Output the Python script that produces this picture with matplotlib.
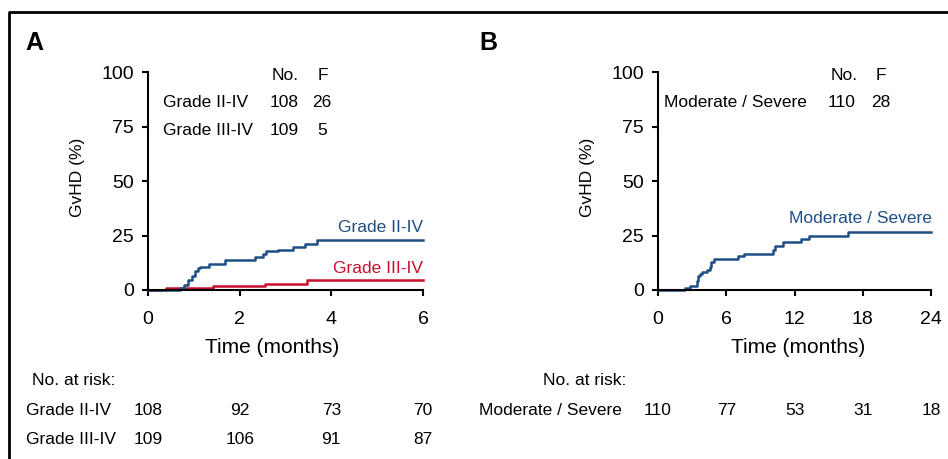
import matplotlib
matplotlib.use("Agg")
import matplotlib.pyplot as plt
import matplotlib.transforms as mtransforms
from matplotlib.lines import Line2D

plt.rcParams['font.family'] = ['Liberation Sans', 'DejaVu Sans']

W, H = 948, 459
BLUE = '#1d4f86'
RED = '#c8102e'

# Panel A: cumulative incidence of acute GvHD (months)
a_t_grade24 = [0, 0.69, 0.78, 0.87, 0.95, 1.02, 1.08, 1.125, 1.34, 1.67, 2.33,
               2.51, 2.58, 2.84, 3.17, 3.43, 3.68, 6]
a_v_grade24 = [0, 1.0, 2.5, 4.6, 6.5, 8.5, 10.0, 10.75, 12.0, 13.8, 15.0,
               16.3, 17.7, 18.4, 19.7, 21.3, 23.1, 23.1]
a_t_grade34 = [0, 0.39, 1.42, 2.55, 3.46, 6]
a_v_grade34 = [0, 0.9, 1.8, 2.8, 4.6, 4.6]
a_ticks = [0, 2, 4, 6]
a_risk_grade24 = [108, 92, 73, 70]
a_risk_grade34 = [109, 106, 91, 87]

# Panel B: chronic GvHD (months)
b_t_modsev = [0, 2.35, 2.8, 3.4, 3.5, 3.65, 3.9, 4.3, 4.55, 4.7, 4.93, 7.05,
              7.55, 10.1, 10.3, 11.0, 12.6, 13.3, 16.7, 24]
b_v_modsev = [0, 0.9, 1.8, 4.3, 6.6, 7.5, 8.1, 9.2, 10.75, 12.7, 14.3, 15.4,
              16.6, 18.4, 20.0, 22.0, 23.5, 25.0, 26.6, 26.6]
b_ticks = [0, 6, 12, 18, 24]
b_risk_modsev = [110, 77, 53, 31, 18]

y_ticks = [0, 25, 50, 75, 100]

fig = plt.figure(figsize=(W / 100, H / 100), dpi=100)


def fx(px):
    return px / W


def fy(py):
    return 1 - py / H


def txt(x, y, s, **kw):
    kw.setdefault('fontsize', 12.5)
    fig.text(fx(x), fy(y), s, va='baseline', **kw)


def setup(ax, xmax, ticks):
    ax.set_xlim(0, xmax)
    ax.set_ylim(0, 100)
    ax.set_xticks(ticks)
    ax.set_yticks(y_ticks)
    for s in ['top', 'right']:
        ax.spines[s].set_visible(False)
    for s in ['left', 'bottom']:
        ax.spines[s].set_linewidth(1.5)
    ax.tick_params(width=1.5, length=4, labelsize=14)
    ax.tick_params(axis='x', pad=11)
    ax.tick_params(axis='y', pad=6)
    ax.patch.set_alpha(0)


axA = fig.add_axes([fx(148), fy(290), fx(423 - 148), (290 - 72) / H])
setup(axA, 6, a_ticks)
axA.step(a_t_grade34, a_v_grade34, where='post', color=RED, lw=1.8, clip_on=False)
axA.step(a_t_grade24, a_v_grade24, where='post', color=BLUE, lw=1.8, clip_on=False)

axB = fig.add_axes([fx(658), fy(290), fx(931 - 658), (290 - 72) / H])
setup(axB, 24, b_ticks)
axB.step(b_t_modsev, b_v_modsev, where='post', color=BLUE, lw=1.8, clip_on=False)

# frame
fig.add_artist(Line2D([fx(8.5), fx(8.5), 1.0], [0, fy(11.5), fy(11.5)],
                      color='black', lw=2, transform=fig.transFigure))

# panel letters
txt(25, 50, 'A', fontsize=18, fontweight='bold')
txt(479, 50, 'B', fontsize=18, fontweight='bold')

# axis labels
txt(272, 353, 'Time (months)', ha='center', fontsize=15)
txt(798, 353, 'Time (months)', ha='center', fontsize=15)
fig.text(fx(77.5), fy(177), 'GvHD (%)', rotation=90, ha='center', va='center',
         fontsize=12.5)
fig.text(fx(587.5), fy(177), 'GvHD (%)', rotation=90, ha='center', va='center',
         fontsize=12.5)

# legend tables
txt(272, 80, 'No.')
txt(318, 80, 'F')
txt(163, 107, 'Grade II-IV')
txt(270, 107, '108')
txt(312, 107, '26')
txt(163, 135, 'Grade III-IV')
txt(270, 135, '109')
txt(317, 135, '5')

txt(831, 80, 'No.')
txt(876, 80, 'F')
txt(664, 107, 'Moderate / Severe')
txt(828, 107, '110')
txt(871, 107, '28')

# curve labels
txt(423, 232, 'Grade II-IV', ha='right', color=BLUE)
txt(423, 273, 'Grade III-IV', ha='right', color=RED)
txt(932, 223, 'Moderate / Severe', ha='right', color=BLUE)

# number at risk
txt(32, 385, 'No. at risk:')
txt(26, 415, 'Grade II-IV')
txt(26, 444, 'Grade III-IV')
txt(626, 385, 'No. at risk:', ha='right')
txt(622, 415, 'Moderate / Severe', ha='right')

transA = mtransforms.blended_transform_factory(axA.transData, fig.transFigure)
transB = mtransforms.blended_transform_factory(axB.transData, fig.transFigure)
for t, n in zip(a_ticks, a_risk_grade24):
    fig.text(t, fy(415), str(n), transform=transA, ha='center', va='baseline', fontsize=12.5)
for t, n in zip(a_ticks, a_risk_grade34):
    fig.text(t, fy(444), str(n), transform=transA, ha='center', va='baseline', fontsize=12.5)
for t, n in zip(b_ticks, b_risk_modsev):
    fig.text(t, fy(415), str(n), transform=transB, ha='center', va='baseline', fontsize=12.5)

fig.savefig('out.png', dpi=100)
